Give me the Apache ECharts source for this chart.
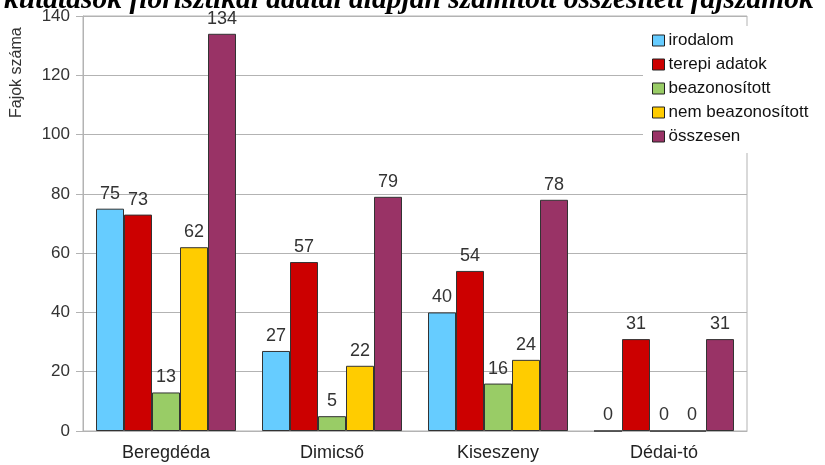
<!DOCTYPE html>
<html>
<head>
<meta charset="utf-8">
<script src="https://cdn.jsdelivr.net/npm/echarts@6/dist/echarts.min.js"></script>
<style>
  html, body { margin: 0; padding: 0; background: #fff; }
  #chart { width: 825px; height: 465px; }
</style>
</head>
<body>
<div id="chart"></div>
<script>
// helyszínek és fajszámok
const categories = ['Beregdéda', 'Dimicső', 'Kiseszeny', 'Dédai-tó']
const irodalom = [75, 27, 40, 0]
const terepiAdatok = [73, 57, 54, 31]
const beazonositott = [13, 5, 16, 0]
const nemBeazonositott = [62, 22, 24, 0]
const osszesen = [134, 79, 78, 31]

const seriesNames = ['irodalom', 'terepi adatok', 'beazonosított', 'nem beazonosított', 'összesen']
const seriesData = [irodalom, terepiAdatok, beazonositott, nemBeazonositott, osszesen]
const colors = ['#66ccff', '#cc0000', '#99cc66', '#ffcc00', '#993366']

const font = 'Liberation Sans, Arial, sans-serif'
const chart = echarts.init(document.getElementById('chart'))

chart.setOption({
  animation: false,
  color: colors,
  title: {
    text: 'kutatások florisztikai adatai alapján számított összesített fajszámok',
    left: 4,
    top: -15,
    padding: 0,
    textStyle: {
      fontFamily: 'Liberation Serif, Times New Roman, serif',
      fontStyle: 'italic',
      fontWeight: 'bold',
      fontSize: 29.5,
      color: '#000'
    }
  },
  legend: {
    orient: 'vertical',
    left: 643,
    top: 26,
    padding: [6, 40, 8, 9],
    itemGap: 7,
    itemWidth: 12,
    itemHeight: 11,
    backgroundColor: '#fff',
    icon: 'rect',
    itemStyle: { borderColor: '#222', borderWidth: 1 },
    textStyle: { fontFamily: font, fontSize: 17, color: '#111', padding: [0, 0, 0, -1] }
  },
  graphic: [{
    type: 'text',
    x: 9,
    y: 118,
    rotation: Math.PI / 2,
    style: { text: 'Fajok száma', fontFamily: font, fontSize: 16, fill: '#333' }
  }],
  grid: {
    left: 83, right: 78, top: 16, bottom: 34,
    show: true, borderColor: '#b3b3b3', borderWidth: 1
  },
  xAxis: {
    type: 'category',
    data: categories,
    axisLine: { lineStyle: { color: '#b3b3b3' } },
    axisTick: { length: 9, lineStyle: { color: '#b3b3b3' } },
    axisLabel: { fontFamily: font, fontSize: 18, color: '#222', margin: 13 }
  },
  yAxis: {
    type: 'value',
    min: 0, max: 140, interval: 20,
    axisLine: { show: true, lineStyle: { color: '#b3b3b3' } },
    axisTick: { show: true, length: 7, lineStyle: { color: '#b3b3b3' } },
    axisLabel: { fontFamily: font, fontSize: 17, color: '#333', margin: 13 },
    splitLine: { lineStyle: { color: '#b3b3b3' } }
  },
  series: seriesNames.map((name, i) => ({
    name,
    type: 'bar',
    data: seriesData[i],
    barWidth: 28,
    barGap: 0,
    itemStyle: { borderColor: '#333', borderWidth: 1 },
    label: {
      show: true, position: 'top', distance: 6,
      fontFamily: font, fontSize: 18, color: '#333'
    }
  }))
})
</script>
</body>
</html>
